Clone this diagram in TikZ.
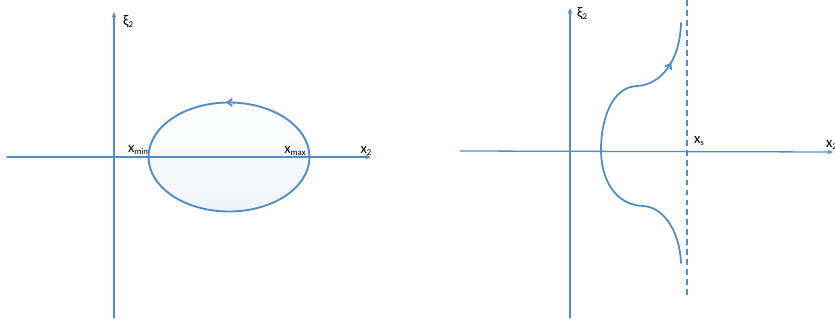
\documentclass[tikz,border=0pt]{standalone}
\usepackage{fontspec}
\setmainfont{Carlito}
\usetikzlibrary{arrows.meta,decorations.markings}
\definecolor{lineblue}{RGB}{80,140,200}
\newcommand{\lowsub}[1]{\raisebox{-0.3ex}{\fontsize{7.5}{8}\selectfont #1}}

\begin{document}
\begin{tikzpicture}[x=0.03cm,y=0.03cm,>={Stealth[length=5pt,width=4pt]},font=\fontsize{12.5}{14}\selectfont,line cap=round]
\tikzset{axis/.style={lineblue,line width=1.1pt,->},
  orbit/.style={lineblue,line width=1.6pt},
  midarrow/.style={postaction={decorate},decoration={markings,
    mark=at position #1 with {\arrow{Straight Barb[length=4pt,width=6pt]}}}}}
\useasboundingbox (0,0) rectangle (835,324);
% left panel
\coordinate (xa) at (7,167);
\coordinate (xb) at (371,167);
\coordinate (ya) at (114,6);
\coordinate (yb) at (114,312);
\draw[orbit,midarrow=0.257,top color=white,bottom color=lineblue!9] (229,167) ellipse [x radius=80.5,y radius=54.5];
\draw[axis] (xa) -- (xb);
\draw[axis] (ya) -- (yb);
\node (xi) at (128,302) {ξ\lowsub{2}};
\node (xmin) at (138,174) {x\lowsub{min}};
\node (xmax) at (295,173) {x\lowsub{max}};
\node (xtwo) at (366,173) {x\lowsub{2}};
% right panel
\coordinate (ra) at (460,173);
\coordinate (rb) at (833,172);
\coordinate (sa) at (570,6);
\coordinate (sb) at (570,316);
\coordinate (da) at (687,29);
\coordinate (db) at (687,324);
\draw[axis] (ra) -- (rb);
\draw[axis] (sa) -- (sb);
\draw[lineblue,line width=1.1pt,dash pattern=on 5pt off 3.5pt,line cap=butt] (da) -- (db);
\draw[orbit,line width=1.5pt,midarrow=0.87] (681,61) .. controls (680,90) and (665,117) .. (643,118)
  .. controls (615,119) and (601,145) .. (601,174)
  .. controls (601,205) and (612,237) .. (637,238)
  .. controls (660,239) and (680,262) .. (681,301);
\node (eta) at (582,310) {ξ\lowsub{2}};
\node (xs) at (699,183) {x\lowsub{s}};
\node[anchor=west] (xtwor) at (822,179) {x\lowsub{2}};
\end{tikzpicture}
\end{document}
